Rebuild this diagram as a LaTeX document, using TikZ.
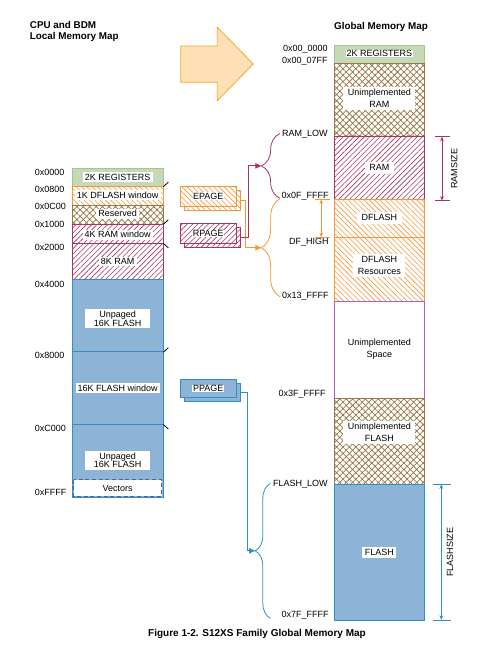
\documentclass[tikz,border=0pt]{standalone}
\usepackage{fontspec}
\setmainfont{Liberation Sans}
\usetikzlibrary{arrows.meta,patterns.meta,decorations.pathreplacing}

\definecolor{regFill}{RGB}{198,217,183}
\definecolor{regLine}{RGB}{168,193,150}
\definecolor{dfOrange}{RGB}{247,150,55}
\definecolor{ramRed}{RGB}{168,52,98}
\definecolor{resBrown}{RGB}{152,120,70}
\definecolor{flashFill}{RGB}{141,180,214}
\definecolor{flashLine}{RGB}{45,145,200}
\definecolor{bigFill}{RGB}{253,224,182}
\definecolor{bigLine}{RGB}{248,168,40}
\definecolor{spaceLine}{RGB}{178,98,182}
\definecolor{vecLine}{RGB}{78,96,168}

\tikzset{
  lbl/.style={font=\fontsize{6.75}{7.5}\selectfont, inner sep=0.75pt},
  tag/.style={lbl, fill=white, inner xsep=1.6pt, inner ysep=1.2pt, align=center},
  gtag/.style={tag, inner xsep=3.5pt, inner ysep=2pt, font=\fontsize{6.75}{9}\selectfont},
  title/.style={font=\bfseries\fontsize{7.4}{8.6}\selectfont, inner sep=0.75pt, align=left},
  regs/.style={fill=regFill, draw=regLine},
  dfhatch/.style={draw=dfOrange, pattern={Lines[angle=-45,distance=2.8pt,line width=0.45pt]}, pattern color=dfOrange},
  ramhatch/.style={draw=ramRed, pattern={Lines[angle=45,distance=2.8pt,line width=0.45pt]}, pattern color=ramRed},
  xhatch/.style={draw=resBrown, pattern={Hatch[angle=45,distance=3.4pt,line width=0.55pt]}, pattern color=resBrown},
  flash/.style={fill=flashFill, draw=flashLine},
  pagebox/.style={minimum width=41.5pt, minimum height=15pt, inner sep=0pt},
  feed/.style={-{Triangle[length=4.5pt,width=4pt]}},
  size/.style={{Stealth[length=3.5pt,width=2.8pt]}-{Stealth[length=3.5pt,width=2.8pt]}},
}

\begin{document}
\begin{tikzpicture}[x=0.75pt,y=0.75pt,yscale=-1,xscale=1,line width=0.6pt]
\useasboundingbox (0,0) rectangle (493,649);

% Titles
\node[title, anchor=west] (cpuT) at (28.5,31.2) {CPU and BDM\\Local Memory Map};
\node[title] (glbT) at (381,26.5) {Global Memory Map};
\node[title, font=\bfseries\fontsize{7.5}{8.6}\selectfont] (capT) at (257,634) {Figure 1-2. S12XS Family Global Memory Map};

%Shape: Big Arrow
\draw[bigLine, fill=bigFill] (180.7,46) -- (217.3,46) -- (217.3,27.3) -- (253.3,64) -- (217.3,100.7) -- (217.3,82.3) -- (180.7,82.3) -- cycle;

%Shape: Local map
\draw[regs] (72.3,168.3) rectangle (163,186);
\draw[dfhatch] (72.3,186) rectangle (163,205);
\draw[xhatch] (72.3,205) rectangle (163,224.3);
\draw[ramhatch] (72.3,224.3) rectangle (163,243.3);
\draw[ramhatch] (72.3,243.3) rectangle (163,279.3);
\draw[flash] (72.3,279.3) rectangle (163,497);
\draw[flashLine] (72.3,351.7) -- (163,351.7) (72.3,424.3) -- (163,424.3);
\draw[vecLine, dash pattern=on 3pt off 2pt, fill=white, line width=0.8pt] (73.8,479.6) rectangle (161.6,496.3);
% window ticks
\draw (163.3,186.7) -- ++(5,-4.5) (163.3,224.3) -- ++(5,-4.5) (163.3,243.3) -- ++(5,4.5);
\draw (163.3,352.2) -- ++(5,-4.5) (163.3,424.5) -- ++(5,4.5);

% Text Node
\node[tag] (lReg) at (117.7,177) {2K REGISTERS};
\node[tag] (lDfw) at (117.7,195.3) {1K DFLASH window};
\node[tag] (lRes) at (117.7,213.6) {Reserved};
\node[tag] (lRamw) at (117.7,234.6) {4K RAM window};
\node[tag] (lRam) at (117.7,261.7) {8K RAM};
\node[tag, font=\fontsize{6.75}{6.5}\selectfont, minimum width=48.75pt] (lFl1) at (117.7,318.6) {Unpaged\\16K FLASH};
\node[tag] (lFlw) at (117.7,387.8) {16K FLASH window};
\node[tag, font=\fontsize{6.75}{6.5}\selectfont, minimum width=48.75pt] (lFl2) at (117.7,460.3) {Unpaged\\16K FLASH};
\node[lbl] (lVec) at (117.7,488) {Vectors};

% Text Node
\node[lbl, anchor=west] (a0000) at (33.5,172.3) {0x0000};
\node[lbl, anchor=west] (a0800) at (33.5,189.3) {0x0800};
\node[lbl, anchor=west] (a0C00) at (33.5,206.7) {0x0C00};
\node[lbl, anchor=west] (a1000) at (33.5,224.2) {0x1000};
\node[lbl, anchor=west] (a2000) at (33.5,247.3) {0x2000};
\node[lbl, anchor=west] (a4000) at (33.5,284) {0x4000};
\node[lbl, anchor=west] (a8000) at (33.5,355.7) {0x8000};
\node[lbl, anchor=west] (aC000) at (33.5,428.3) {0xC000};
\node[lbl, anchor=west] (aFFFF) at (33.5,492.3) {0xFFFF};

%Shape: Global map
\draw[regs] (334.3,45) rectangle (424.3,63.3);
\draw[xhatch] (334.3,63.3) rectangle (424.3,136);
\draw[ramhatch] (334.3,136) rectangle (424.3,199);
\draw[dfhatch] (334.3,199) rectangle (424.3,237.7);
\draw[dfhatch] (334.3,237.7) rectangle (424.3,301);
\draw[spaceLine, fill=white] (334.3,301) rectangle (424.3,398.7);
\draw[xhatch] (334.3,398.7) rectangle (424.3,484);
\draw[flash] (334.3,484) rectangle (424.3,620.7);

% Text Node
\node[tag, inner xsep=0.6pt, inner ysep=0.6pt] (gReg) at (379.3,53.5) {2K REGISTERS};
\node[gtag] (gURam) at (379.3,98.5) {Unimplemented\\RAM};
\node[gtag] (gRam) at (379.3,167.8) {RAM};
\node[gtag] (gDf) at (379.3,217.9) {DFLASH};
\node[gtag] (gDfr) at (379.3,265.4) {DFLASH\\Resources};
\node[gtag, fill=none] (gUSp) at (379.3,349.2) {Unimplemented\\Space};
\node[gtag] (gUFl) at (379.3,432.5) {Unimplemented\\FLASH};
\node[gtag, inner xsep=2pt] (gFl) at (379.3,552.6) {FLASH};

% Text Node
\node[lbl, anchor=east] (g000000) at (329,49) {0x00\_0000};
\node[lbl, anchor=east] (g0007FF) at (329,61) {0x00\_07FF};
\node[lbl, anchor=east] (gRamLow) at (329,134) {RAM\_LOW};
\node[lbl, anchor=east] (g0FFFFF) at (330,196) {0x0F\_FFFF};
\node[lbl, anchor=east] (gDfHigh) at (330,242.7) {DF\_HIGH};
\node[lbl, anchor=east] (g13FFFF) at (330,296.7) {0x13\_FFFF};
\node[lbl, anchor=east] (g3FFFFF) at (327,394) {0x3F\_FFFF};
\node[lbl, anchor=east] (gFlLow) at (329,484) {FLASH\_LOW};
\node[lbl, anchor=east] (g7FFFFF) at (330,615.7) {0x7F\_FFFF};

% page registers
\node[pagebox, dfhatch, preaction={fill=white}] (epageS) at (212.3,200) {};
\node[pagebox, dfhatch, preaction={fill=white}, label={[tag, inner sep=0.4pt]center:EPAGE}] (epage) at (208.3,196) {};
\node[pagebox, ramhatch, preaction={fill=white}] (rpageS) at (212.3,237.3) {};
\node[pagebox, ramhatch, preaction={fill=white}, label={[tag, inner sep=0.4pt]center:RPAGE}] (rpage) at (208.3,233.3) {};
\node[pagebox, flash, minimum height=13.8pt] (ppageS) at (212.3,392.5) {};
\node[pagebox, flash, minimum height=13.8pt, label={[tag, inner sep=0.6pt]center:PPAGE}] (ppage) at (208.3,388.5) {};

% braces
\coordinate (ramLowC) at (280,133.5);
\coordinate (ramHighC) at (280,198.3);
\coordinate (dfLowC) at (280,198.7);
\coordinate (dfHighC) at (280,296.7);
\coordinate (flLowC) at (270.5,483.3);
\coordinate (flHighC) at (270.5,618.3);
\coordinate (ramTip) at (261.3,165.9);
\coordinate (dfTip) at (261.3,247.7);
\coordinate (flTip) at (255.2,550.8);
\draw[ramRed, decorate, decoration={brace, amplitude=14pt}] (ramHighC) -- (ramLowC);
\draw[dfOrange, decorate, decoration={brace, amplitude=14pt}] (dfHighC) -- (dfLowC);
\draw[flashLine, decorate, decoration={brace, amplitude=11.5pt}] (flHighC) -- (flLowC);

% feeds
\draw[dfOrange, feed] (epageS.east) -- ++(5,0) |- (dfTip);
\draw[ramRed, feed] (rpageS.east) -- ++(8,0) |- (ramTip);
\draw[flashLine, feed] (ppageS.east) -- ++(7,0) |- (flTip);

% sizes
\coordinate (dfSzA) at (321.3,199.3);
\coordinate (dfSzB) at (321.3,237.3);
\draw[dfOrange] (dfSzA) ++(-6,0) -- ++(15,0) (dfSzB) ++(-6,0) -- ++(15,0);
\draw[dfOrange, size] (dfSzA) -- (dfSzB);
\coordinate (ramSzA) at (442,136.7);
\coordinate (ramSzB) at (442,200.7);
\draw[ramRed] (ramSzA) ++(-7,0) -- ++(15,0) (ramSzB) ++(-7,0) -- ++(15,0);
\draw[ramRed, size] (ramSzA) -- (ramSzB);
\node[lbl, rotate=90] (ramSzT) at (454.3,168.7) {RAMSIZE};
\coordinate (flSzA) at (441.3,484.3);
\coordinate (flSzB) at (441.3,620);
\draw[flashLine] (flSzA) ++(-8,0) -- ++(17.5,0) (flSzB) ++(-8,0) -- ++(17.5,0);
\draw[flashLine, size] (flSzA) -- (flSzB);
\node[lbl, rotate=90] (flSzT) at (450,552.3) {FLASHSIZE};
\end{tikzpicture}
\end{document}
